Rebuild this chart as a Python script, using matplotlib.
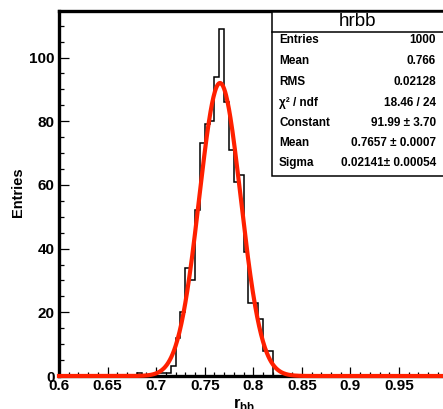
import numpy as np
import matplotlib.pyplot as plt
from matplotlib.ticker import MultipleLocator
from matplotlib.patches import Rectangle

plt.rcParams['font.family'] = ['Liberation Sans', 'DejaVu Sans']
plt.rcParams['mathtext.fontset'] = 'custom'
plt.rcParams['mathtext.rm'] = 'Liberation Sans:bold'

# histogram hrbb, 80 bins of 0.005 between 0.6 and 1.0 (only filled bins listed)
bin_lo = [0.680, 0.700, 0.705, 0.710, 0.715, 0.720, 0.725, 0.730, 0.735, 0.740,
          0.745, 0.750, 0.755, 0.760, 0.765, 0.770, 0.775, 0.780, 0.785, 0.790,
          0.795, 0.800, 0.805, 0.810, 0.815]
bin_n = [1, 1, 1, 1, 3, 12, 20, 34, 30, 52,
         73, 79, 80, 94, 109, 86, 71, 61, 63, 39,
         23, 23, 18, 8, 8]

# gaussian fit parameters
fit_const = 91.99
fit_mean = 0.7657
fit_sigma = 0.02141

stat_names = ['Entries', 'Mean', 'RMS', 'χ² / ndf', 'Constant', 'Mean', 'Sigma']
stat_vals = ['1000', '0.766', '0.02128', '18.46 / 24', '91.99 ± 3.70',
             '0.7657 ± 0.0007', '0.02141± 0.00054']

edges = np.round(np.linspace(0.6, 1.0, 81), 4)
counts = np.zeros(80)
for lo, n in zip(bin_lo, bin_n):
    counts[int(round((lo - 0.6) / 0.005))] = n

W, H = 443, 409
fig = plt.figure(figsize=(W / 100, H / 100), dpi=100)
ax = fig.add_axes([59 / W, 33 / H, 388.6 / W, 365 / H])

ax.stairs(counts, edges, color='black', lw=1.1, zorder=2)

xf = np.linspace(0.6, 1.0, 801)
yf = fit_const * np.exp(-0.5 * ((xf - fit_mean) / fit_sigma) ** 2)
ax.plot(xf, yf, color='#ff2000', lw=3.0, zorder=5, clip_on=False)

ax.set_xlim(0.6, 1.0)
ax.set_ylim(0, 114.6)

ax.xaxis.set_minor_locator(MultipleLocator(0.01))
ax.yaxis.set_major_locator(MultipleLocator(20))
ax.yaxis.set_minor_locator(MultipleLocator(5))
ax.set_xticks([0.6, 0.65, 0.7, 0.75, 0.8, 0.85, 0.9, 0.95])
ax.set_xticklabels(['0.6', '0.65', '0.7', '0.75', '0.8', '0.85', '0.9', '0.95'])

ax.tick_params(which='both', direction='in', width=0.9, top=False, right=False)
ax.tick_params(axis='x', which='major', length=6.5, pad=2)
ax.tick_params(axis='x', which='minor', length=3.2)
ax.tick_params(axis='y', which='major', length=7, pad=3)
ax.tick_params(axis='y', which='minor', length=3.5)
for lab in ax.get_xticklabels() + ax.get_yticklabels():
    lab.set_fontsize(11)
    lab.set_fontweight('bold')

for s in ax.spines.values():
    s.set_linewidth(2.4)

ax.set_ylabel('Entries', fontsize=10.5, fontweight='bold')
ax.yaxis.set_label_coords(-34 / 388.6, (376 - 192) / 365)
ax.set_xlabel(r'$\mathrm{r}_{\mathrm{bb}}$', fontsize=12)
ax.xaxis.set_label_coords((244 - 59) / 388.6, -20 / 365)

# stats box
bx0, by0, by1 = 272, 175.7, 12
fig.patches.append(Rectangle((bx0 / W, 1 - by0 / H), (W + 5 - bx0) / W, (by0 - by1) / H,
                             transform=fig.transFigure, facecolor='white',
                             edgecolor='black', lw=1.1, zorder=10))
fig.lines.append(plt.Line2D([bx0 / W, 1.0], [1 - 31.7 / H, 1 - 31.7 / H],
                            transform=fig.transFigure, color='black', lw=1.1, zorder=11))
fig.text(357 / W, 1 - 21.5 / H, 'hrbb', fontsize=13.5, ha='center', va='center', zorder=12)
row_y = [40.3, 61, 81.7, 102.5, 123, 143.3, 163.3]
for name, val, yy in zip(stat_names, stat_vals, row_y):
    fig.text(279 / W, 1 - yy / H, name, fontsize=8.5, fontweight='bold',
             ha='left', va='center', zorder=12)
    fig.text(436 / W, 1 - yy / H, val, fontsize=8.5, fontweight='bold',
             ha='right', va='center', zorder=12)

fig.savefig('out.png', dpi=100)
